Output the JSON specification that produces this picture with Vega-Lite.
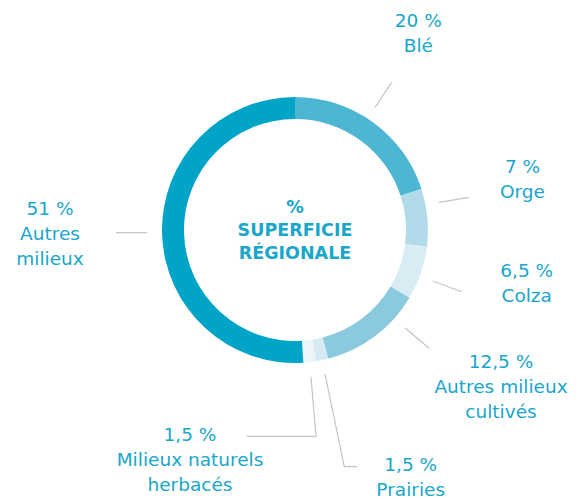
{
  "$schema": "https://vega.github.io/schema/vega-lite/v6.json",
  "autosize": {"type": "none"},
  "width": 570,
  "height": 460,
  "padding": {"left": 10, "top": 0, "right": 0, "bottom": 39},
  "background": "white",
  "config": {"view": {"stroke": null}},
  "datasets": {
    "shares": [
      {"categorie": "Blé", "part": 20, "ordre": 1},
      {"categorie": "Orge", "part": 7, "ordre": 2},
      {"categorie": "Colza", "part": 6.5, "ordre": 3},
      {"categorie": "Autres milieux cultivés", "part": 12.5, "ordre": 4},
      {"categorie": "Prairies", "part": 1.5, "ordre": 5},
      {"categorie": "Milieux naturels herbacés", "part": 1.5, "ordre": 6},
      {"categorie": "Autres milieux", "part": 51, "ordre": 7}
    ],
    "labels": [
      {"categorie": "Blé", "texte": "20 %\nBlé", "lx": 123.3, "ly": 203.3},
      {"categorie": "Orge", "texte": "7 %\nOrge", "lx": 227.5, "ly": 56.7},
      {"categorie": "Colza", "texte": "6,5 %\nColza", "lx": 231.7, "ly": -47.3},
      {"categorie": "Autres milieux cultivés", "texte": "12,5 %\nAutres milieux\ncultivés", "lx": 206, "ly": -138.3},
      {"categorie": "Prairies", "texte": "1,5 %\nPrairies", "lx": 115.7, "ly": -240.5},
      {"categorie": "Milieux naturels herbacés", "texte": "1,5 %\nMilieux naturels\nherbacés", "lx": -105, "ly": -210.7},
      {"categorie": "Autres milieux", "texte": "51 %\nAutres\nmilieux", "lx": -245, "ly": 15}
    ],
    "leaders": [
      {"categorie": "Blé", "p": 1, "lx": 80, "ly": 122.7},
      {"categorie": "Blé", "p": 2, "lx": 96.7, "ly": 147.7},
      {"categorie": "Orge", "p": 1, "lx": 144, "ly": 27.7},
      {"categorie": "Orge", "p": 2, "lx": 174, "ly": 32.7},
      {"categorie": "Colza", "p": 1, "lx": 137.7, "ly": -51},
      {"categorie": "Colza", "p": 2, "lx": 166.7, "ly": -61.7},
      {"categorie": "Autres milieux cultivés", "p": 1, "lx": 110, "ly": -97.7},
      {"categorie": "Autres milieux cultivés", "p": 2, "lx": 134, "ly": -118.3},
      {"categorie": "Prairies", "p": 1, "lx": 30, "ly": -144},
      {"categorie": "Prairies", "p": 2, "lx": 49.3, "ly": -236.7},
      {"categorie": "Prairies", "p": 3, "lx": 62.3, "ly": -236.7},
      {"categorie": "Milieux naturels herbacés", "p": 1, "lx": 16, "ly": -146.7},
      {"categorie": "Milieux naturels herbacés", "p": 2, "lx": 21, "ly": -206.3},
      {"categorie": "Milieux naturels herbacés", "p": 3, "lx": -48.3, "ly": -206.3},
      {"categorie": "Autres milieux", "p": 1, "lx": -179, "ly": -2.7},
      {"categorie": "Autres milieux", "p": 2, "lx": -147.7, "ly": -2.7}
    ],
    "centre": [
      {"texte": "%\nSUPERFICIE\nRÉGIONALE", "lx": 0, "ly": 17}
    ]
  },
  "layer": [
    {
      "data": {"name": "shares"},
      "mark": {"type": "arc", "outerRadius": 133, "innerRadius": 111},
      "encoding": {
        "theta": {"field": "part", "type": "quantitative", "stack": true},
        "order": {"field": "ordre", "type": "quantitative", "sort": "ascending"},
        "color": {
          "field": "categorie",
          "type": "nominal",
          "legend": null,
          "scale": {
            "domain": ["Blé", "Orge", "Colza", "Autres milieux cultivés", "Prairies", "Milieux naturels herbacés", "Autres milieux"],
            "range": ["#4cb6d3", "#b2dbe9", "#d9ecf4", "#8bcade", "#d5eaf3", "#ecf5f9", "#00a4c6"]
          }
        }
      }
    },
    {
      "data": {"name": "leaders"},
      "mark": {"type": "line", "color": "#c4c4c4", "strokeWidth": 1.2},
      "encoding": {
        "x": {"field": "lx", "type": "quantitative", "scale": {"domain": [-285, 285], "nice": false, "zero": false}, "axis": null},
        "y": {"field": "ly", "type": "quantitative", "scale": {"domain": [-230, 230], "nice": false, "zero": false}, "axis": null},
        "detail": {"field": "categorie"},
        "order": {"field": "p", "type": "quantitative"}
      }
    },
    {
      "data": {"name": "labels"},
      "mark": {"type": "text", "font": "DejaVu Sans", "fontSize": 18.5, "fontWeight": 400, "color": "#19a6ca", "align": "center", "baseline": "alphabetic", "lineBreak": "\n", "lineHeight": 25},
      "encoding": {
        "x": {"field": "lx", "type": "quantitative"},
        "y": {"field": "ly", "type": "quantitative"},
        "text": {"field": "texte"}
      }
    },
    {
      "data": {"name": "centre"},
      "mark": {"type": "text", "font": "DejaVu Sans", "fontSize": 17.5, "fontWeight": 700, "color": "#19a6ca", "align": "center", "baseline": "alphabetic", "lineBreak": "\n", "lineHeight": 23},
      "encoding": {
        "x": {"field": "lx", "type": "quantitative"},
        "y": {"field": "ly", "type": "quantitative"},
        "text": {"field": "texte"}
      }
    }
  ]
}
